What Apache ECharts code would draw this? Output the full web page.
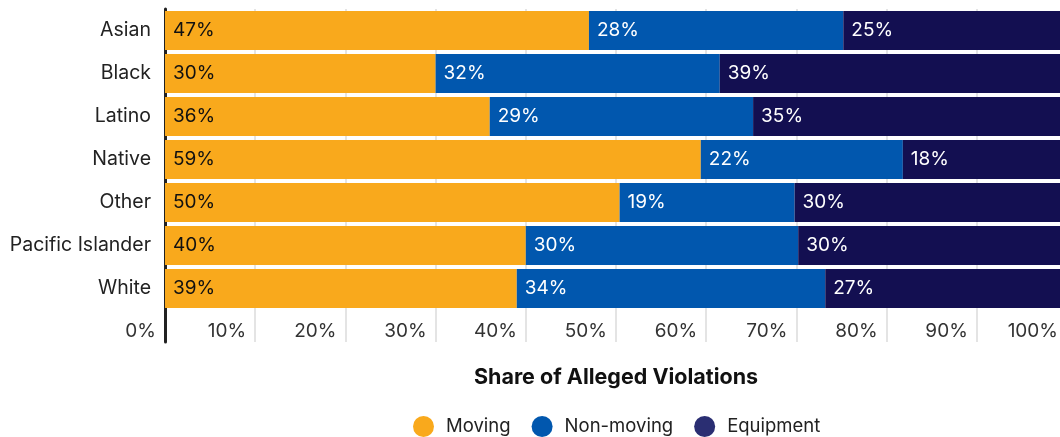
<!DOCTYPE html>
<html>
<head>
<meta charset="utf-8">
<script src="https://cdn.jsdelivr.net/npm/echarts@6/dist/echarts.min.js"></script>
<style>
    html, body { margin: 0; padding: 0; background: #fff; }
    #chart { width: 1060px; height: 437px; }
</style>
</head>
<body>
<div id="chart"></div>
<script>
    // 数据
    const categories = ['Asian', 'Black', 'Latino', 'Native', 'Other', 'Pacific Islander', 'White'];
    const moving = [47.0, 30.0, 36.0, 59.4, 50.4, 40.0, 39.0];
    const nonMoving = [28.2, 31.5, 29.2, 22.4, 19.4, 30.2, 34.2];
    const equipment = [24.8, 38.5, 34.8, 18.2, 30.2, 29.8, 26.8];
    const seriesNames = ['Moving', 'Non-moving', 'Equipment'];
    const barColors = ['#F9A91C', '#0157AE', '#130F51'];
    const legendColors = ['#F9A91C', '#0157AE', '#2A2E72'];

    const font = 'Inter';
    const gridColor = '#e4e4e4';
    const axisDark = '#222';

    const chartInstance = echarts.init(document.getElementById('chart'));

    const makeSeries = (name, data, idx, labelColor) => ({
        name: name,
        type: 'bar',
        stack: 'total',
        xAxisIndex: 0,
        yAxisIndex: 0,
        barWidth: 39,
        data: data,
        itemStyle: { color: barColors[idx] },
        label: {
            show: true,
            position: 'insideLeft',
            distance: 8,
            color: labelColor,
            fontFamily: font,
            fontSize: 19,
            formatter: (p) => Math.round(p.value) + '%'
        },
        emphasis: { disabled: true }
    });

    const option = {
        animation: false,
        textStyle: { fontFamily: font },
        // 两个grid: 上面放柱子, 下面放刻度标签(网格线和轴线延长)
        // 100% 在画布右边界外面一点
        grid: [
            { left: 165, width: 902, top: 9, height: 301, outerBoundsMode: 'none' },
            { left: 165, width: 902, top: 310, height: 32, outerBoundsMode: 'none' }
        ],
        xAxis: [
            {
                gridIndex: 0,
                type: 'value',
                min: 0,
                max: 100,
                interval: 10,
                axisLine: { show: false },
                axisTick: { show: false },
                axisLabel: { show: false },
                splitLine: { lineStyle: { color: gridColor, width: 2 } }
            },
            {
                gridIndex: 1,
                type: 'value',
                min: 0,
                max: 100,
                interval: 10,
                position: 'bottom',
                axisLine: { show: false },
                axisTick: { show: false },
                splitLine: { lineStyle: { color: gridColor, width: 2 } },
                axisLabel: {
                    inside: true,
                    margin: 1,
                    align: 'right',
                    padding: [0, 9, 0, 0],
                    fontFamily: font,
                    fontSize: 19,
                    color: '#333',
                    formatter: (v) => v + '%'
                },
                name: 'Share of Alleged Violations',
                nameLocation: 'middle',
                nameGap: 25,
                nameTextStyle: {
                    fontFamily: font,
                    fontSize: 21.5,
                    fontWeight: 'bold',
                    color: '#111'
                }
            }
        ],
        yAxis: [
            {
                gridIndex: 0,
                type: 'category',
                inverse: true,
                data: categories,
                axisLine: { show: true, lineStyle: { color: axisDark, width: 3 } },
                axisTick: { show: false },
                axisLabel: {
                    margin: 14,
                    fontFamily: font,
                    fontSize: 19.5,
                    color: '#222'
                }
            },
            {
                gridIndex: 1,
                type: 'category',
                data: [''],
                axisLine: { show: true, lineStyle: { color: axisDark, width: 3 } },
                axisTick: { show: false },
                axisLabel: { show: false }
            }
        ],
        legend: {
            left: 408,
            top: 411,
            icon: 'circle',
            itemWidth: 21,
            itemHeight: 21,
            itemGap: 21,
            textStyle: { fontFamily: font, fontSize: 18.5, color: '#222', padding: [0, 0, 0, 7] },
            data: seriesNames.map((n, i) => ({ name: n, itemStyle: { color: legendColors[i] } }))
        },
        series: [
            makeSeries(seriesNames[0], moving, 0, '#111'),
            makeSeries(seriesNames[1], nonMoving, 1, '#fff'),
            makeSeries(seriesNames[2], equipment, 2, '#fff')
        ]
    };

    chartInstance.setOption(option);
</script>
</body>
</html>
